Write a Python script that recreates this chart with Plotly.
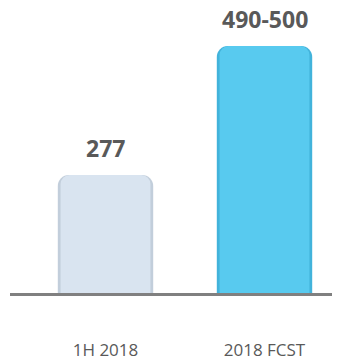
import plotly.graph_objects as go

# Data
categories = ["1H 2018", "2018 FCST"]
values = [277, 495]
value_labels = ["277", "490-500"]

edge_colors = ["#c2cedb", "#42b3db"]
fill_colors = ["#d9e4f0", "#58caef"]

fig = go.Figure()

# Outer bar gives a soft darker rim around each column
fig.add_trace(go.Bar(
    x=categories, y=values, width=0.6,
    marker=dict(color=edge_colors, cornerradius=11, line=dict(width=0)),
    hoverinfo="skip", showlegend=False,
))
# Inner, slightly narrower bar with the main fill
fig.add_trace(go.Bar(
    x=categories, y=values, width=0.565,
    marker=dict(color=fill_colors, cornerradius=9, line=dict(width=0)),
    hoverinfo="skip", showlegend=False,
))

for cat, val, lab in zip(categories, values, value_labels):
    fig.add_annotation(
        x=cat, y=val, text=lab, showarrow=False,
        yanchor="bottom", yshift=9,
        font=dict(family="Open Sans", size=23, color="#595959", weight="bold"),
    )

fig.update_layout(
    width=345, height=361,
    margin=dict(l=10, r=13, t=0, b=68),
    paper_bgcolor="white", plot_bgcolor="white",
    barmode="overlay",
    xaxis=dict(
        range=[-0.6006, 1.4245],
        showline=True, linecolor="#808080", linewidth=3,
        showgrid=False, zeroline=False, ticks="",
        ticklabelstandoff=40,
        tickfont=dict(family="Open Sans", size=17, color="#595959"),
    ),
    yaxis=dict(
        range=[77.6, 572.8],
        visible=False, showgrid=False, zeroline=False,
    ),
)

fig.write_html("out.html")
